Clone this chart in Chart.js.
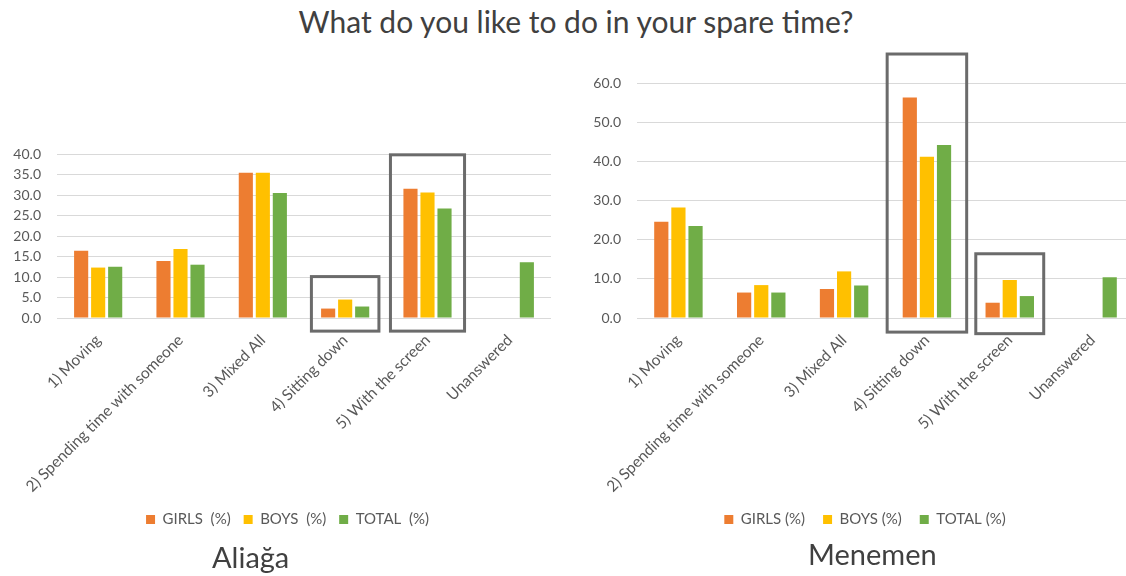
<!DOCTYPE html>
<html>
<head>
<meta charset="utf-8">
<script src="https://cdn.jsdelivr.net/npm/chart.js@4.4.1/dist/chart.umd.min.js"></script>
<style>
  html, body { margin: 0; padding: 0; background: #fff; overflow: hidden; width: 1126px; height: 576px; }
  #title { position: absolute; left: 0; width: 1152px; top: 3px; text-align: center;
           font-family: Lato, "Open Sans", sans-serif; font-size: 30px; color: #404040; }
  .wrap { position: absolute; top: 0; }
  .place { position: absolute; font-family: Lato, "Open Sans", sans-serif; font-size: 29px; color: #404040; }
  #p1 { left: 212px; top: 539px; }
  #p2 { left: 808px; top: 536px; }
</style>
</head>
<body>
<div id="title">What do you like to do in your spare time?</div>
<div class="wrap" style="left:0px"><canvas id="c1" width="551" height="545"></canvas></div>
<div class="wrap" style="left:580px"><canvas id="c2" width="554" height="545"></canvas></div>
<div class="place" id="p1">Aliağa</div>
<div class="place" id="p2">Menemen</div>
<script>
// Answer categories (shared by both districts)
const categories = [
  '1) Moving',
  '2) Spending time with someone',
  '3) Mixed All',
  '4) Sitting down',
  '5) With the screen',
  'Unanswered'
];

// Aliağa (%)
const aliagaGirls = [16.4, 13.9, 35.4, 2.3, 31.5, null];
const aliagaBoys  = [12.3, 16.8, 35.4, 4.5, 30.6, null];
const aliagaTotal = [12.5, 13.0, 30.5, 2.8, 26.7, 13.6];

// Menemen (%)
const menemenGirls = [24.6, 6.5, 7.4, 56.3, 3.9, null];
const menemenBoys  = [28.2, 8.4, 11.9, 41.2, 9.7, null];
const menemenTotal = [23.5, 6.5, 8.3, 44.2, 5.6, 10.4];

// Legend names
const aliagaSeries  = ['GIRLS  (%)', 'BOYS  (%)', 'TOTAL  (%)'];
const menemenSeries = ['GIRLS (%)', 'BOYS (%)', 'TOTAL (%)'];

// Outlined groups: category index and value range covered by the frame
const aliagaFrames  = [{ index: 3, top: 10.1, bottom: -3.2, half: 0.41 },
                       { index: 4, top: 39.8, bottom: -3.2, half: 0.45 }];
const menemenFrames = [{ index: 3, top: 67.4, bottom: -3.6, half: 0.48 },
                       { index: 4, top: 16.4, bottom: -4.0, half: 0.41 }];

const COLORS = ['#ED7D31', '#FFC000', '#70AD47'];
const FONT = 'Lato, "Open Sans", sans-serif';
const TEXT = '#595959';
const LEGEND_FONT = 15;

// Draws grey frames round selected category groups
const framePlugin = {
  id: 'groupFrames',
  afterDatasetsDraw(chart, args, opts) {
    const { ctx, scales: { x, y } } = chart;
    const step = x.getPixelForValue(1) - x.getPixelForValue(0);
    ctx.save();
    ctx.strokeStyle = '#6b6b6b';
    ctx.lineWidth = 3;
    (opts.frames || []).forEach(f => {
      const cx = x.getPixelForValue(f.index);
      const left = cx - step * f.half, right = cx + step * f.half;
      const top = y.getPixelForValue(f.top), bottom = y.getPixelForValue(f.bottom);
      ctx.strokeRect(left, top, right - left, bottom - top);
    });
    ctx.restore();
  }
};

// Nudges the legend sideways after layout
const legendShiftPlugin = {
  id: 'legendShift',
  afterLayout(chart, args, opts) {
    const lg = chart.legend;
    if (lg && opts.dx) { lg.left += opts.dx; lg.right += opts.dx; }
  }
};

function makeChart(id, names, series, yMax, yStep, padTop, legendPad, legendDx, frames) {
  new Chart(document.getElementById(id), {
    type: 'bar',
    data: {
      labels: categories,
      datasets: series.map((vals, i) => ({
        label: names[i],
        data: vals,
        backgroundColor: COLORS[i],
        categoryPercentage: 0.62,
        barPercentage: 0.83
      }))
    },
    plugins: [framePlugin, legendShiftPlugin],
    options: {
      responsive: false,
      animation: false,
      devicePixelRatio: 1,
      layout: { padding: { top: padTop, right: 0, bottom: 8, left: 0 } },
      plugins: {
        legend: {
          position: 'bottom',
          labels: { boxWidth: 9, boxHeight: 9, padding: legendPad, color: TEXT,
                    font: { family: FONT, size: LEGEND_FONT } }
        },
        legendShift: { dx: legendDx },
        tooltip: { enabled: false },
        groupFrames: { frames: frames }
      },
      scales: {
        x: {
          grid: { display: false },
          border: { display: false },
          ticks: { color: TEXT, font: { family: FONT, size: 15.5 },
                   minRotation: 45, maxRotation: 45, padding: 5, autoSkip: false },
          // keep the plot floor at the same height whatever the legend spacing
          afterFit: s => { s.height = 194 - legendPad; }
        },
        y: {
          min: 0, max: yMax,
          grid: { color: '#d9d9d9', drawTicks: false },
          border: { display: false },
          ticks: { stepSize: yStep, color: TEXT, padding: 16,
                   font: { family: FONT, size: 14 },
                   callback: v => v.toFixed(1) },
          afterFit: s => { s.width = 57; }
        }
      }
    }
  });
}

makeChart('c1', aliagaSeries, [aliagaGirls, aliagaBoys, aliagaTotal], 40, 5, 154, 13, 12, aliagaFrames);
makeChart('c2', menemenSeries, [menemenGirls, menemenBoys, menemenTotal], 60, 10, 83, 18, 8, menemenFrames);
</script>
</body>
</html>
